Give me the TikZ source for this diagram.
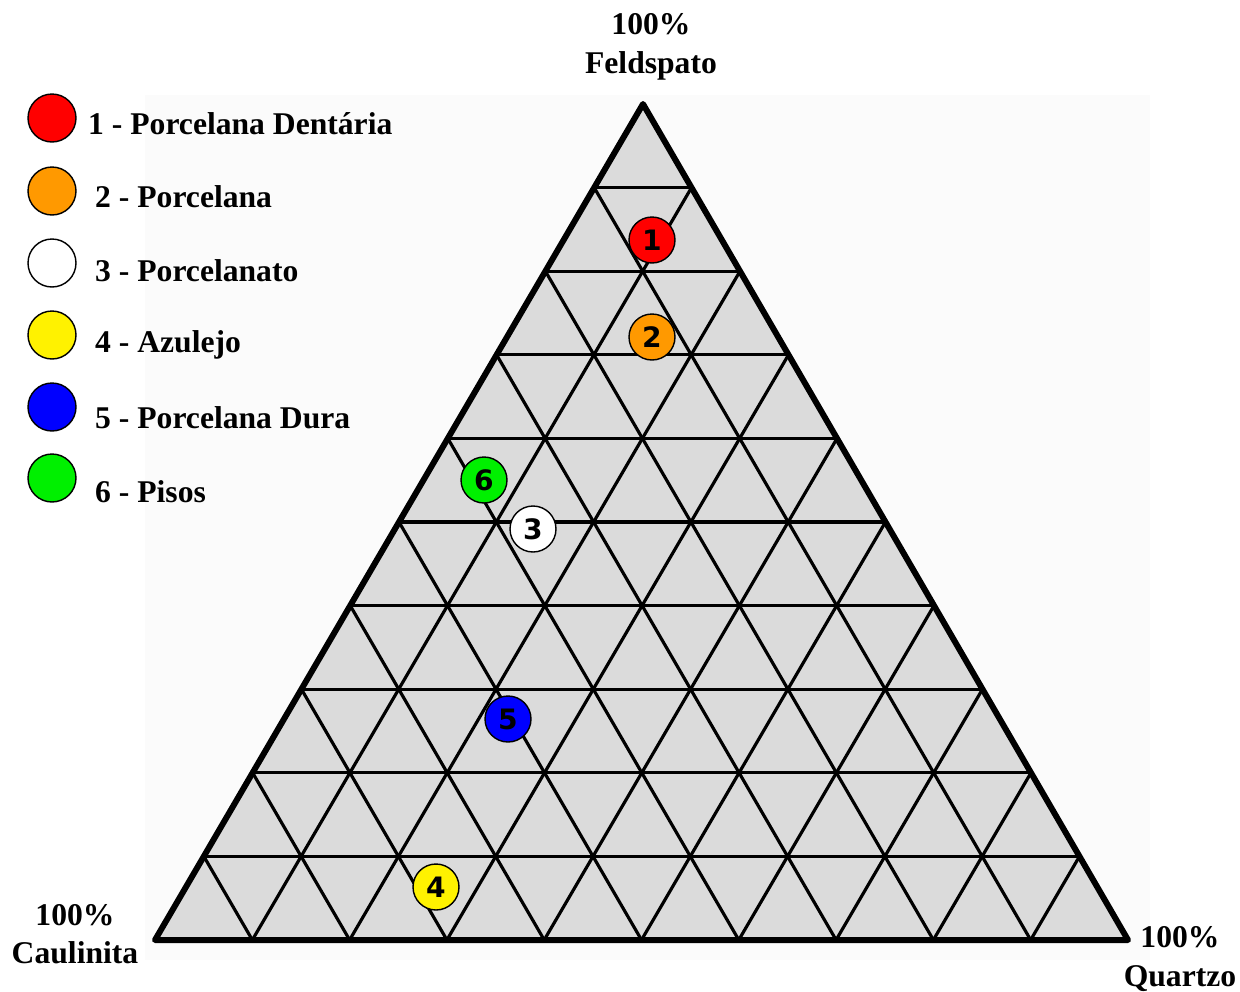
\documentclass[tikz,border=0pt]{standalone}
\usepackage{fontspec}
\setmainfont{Liberation Serif}
\newfontfamily\numfont{DejaVu Sans}
\usetikzlibrary{calc}
\definecolor{ptorange}{RGB}{255,153,0}
\definecolor{ptgreen}{RGB}{0,240,0}

\begin{document}
\begin{tikzpicture}[x=0.02cm,y=-0.02cm,
  sample/.style={draw,circle,thick,minimum size=0.92cm,inner sep=0pt,font=\numfont\bfseries\fontsize{16}{16}\selectfont},
  key/.style={draw,circle,thick,minimum size=0.96cm,inner sep=0pt},
  lbl/.style={anchor=west,font=\bfseries\fontsize{18}{20}\selectfont},
  vtx/.style={align=center,font=\bfseries\fontsize{18}{22}\selectfont}]

\useasboundingbox (0,0) rectangle (1240,991);
\fill[gray!3] (145,95) rectangle (1150,960);

% corners
\coordinate (A) at (155,940);
\coordinate (B) at (1128,940);
\coordinate (C) at (643,104);

\fill[gray!28] (A) -- (B) -- (C) -- cycle;

% grid
\foreach \t in {0.1,0.2,...,0.95}{
  \draw[line width=1.8pt] ($(A)!\t!(C)$) -- ($(B)!\t!(C)$);
  \draw[line width=1.8pt] ($(A)!\t!(B)$) -- ($(C)!\t!(B)$);
  \draw[line width=1.8pt] ($(B)!\t!(A)$) -- ($(C)!\t!(A)$);
}
\draw[line width=3.4pt,line join=round] (A) -- (B) -- (C) -- cycle;

% vertex labels
\node[vtx] (fel) at (651,47) {100\%\\Feldspato};
\node[vtx] (cau) at (75,934) {100\%\\Caulinita};
\node[vtx] (qua) at (1180,959) {100\%\\Quartzo};

% samples
\node[sample,fill=red] (s1) at (652,240) {1};
\node[sample,fill=ptorange] (s2) at (652,337) {2};
\node[sample,fill=white] (s3) at (533,529) {3};
\node[sample,fill=yellow] (s4) at (436,887) {4};
\node[sample,fill=blue] (s5) at (508,719) {5};
\node[sample,fill=ptgreen] (s6) at (484,480) {6};

% legend
\node[key,fill=red] (k1) at (52,118) {};
\node[key,fill=ptorange] (k2) at (52,191) {};
\node[key,fill=white] (k3) at (52,263) {};
\node[key,fill=yellow] (k4) at (52,335) {};
\node[key,fill=blue] (k5) at (52,407) {};
\node[key,fill=ptgreen] (k6) at (52,478) {};
\node[lbl] (l1) at (82,124) {1 - Porcelana Dentária};
\node[lbl] (l2) at (89,197) {2 - Porcelana};
\node[lbl] (l3) at (89,271) {3 - Porcelanato};
\node[lbl] (l4) at (89,345) {4 - Azulejo};
\node[lbl] (l5) at (89,418) {5 - Porcelana Dura};
\node[lbl] (l6) at (89,492) {6 - Pisos};
\end{tikzpicture}
\end{document}
